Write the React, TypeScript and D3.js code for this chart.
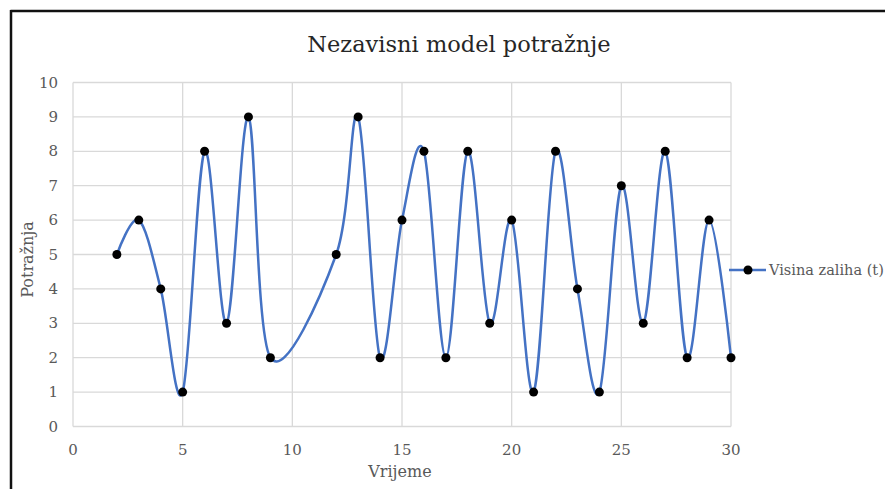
import React from "react";
import * as d3 from "d3";

const xValues = [2, 3, 4, 5, 6, 7, 8, 9, 12, 13, 14, 15, 16, 17, 18, 19, 20, 21, 22, 23, 24, 25, 26, 27, 28, 29, 30];
const yValues = [5, 6, 4, 1, 8, 3, 9, 2, 5, 9, 2, 6, 8, 2, 8, 3, 6, 1, 8, 4, 1, 7, 3, 8, 2, 6, 2];
const xTicks = [0, 5, 10, 15, 20, 25, 30];
const yTicks = [0, 1, 2, 3, 4, 5, 6, 7, 8, 9, 10];
const title = "Nezavisni model potražnje";
const xTitle = "Vrijeme";
const yTitle = "Potražnja";
const seriesName = "Visina zaliha (t)";

export default function App() {
  const W = 885, H = 489;
  const left = 73, right = 731, top = 82.5, bottom = 426.5;
  const x = d3.scaleLinear().domain([0, 30]).range([left, right]);
  const y = d3.scaleLinear().domain([0, 10]).range([bottom, top]);
  const pts: [number, number][] = xValues.map((v, i) => [v, yValues[i]]);
  const line = d3
    .line<[number, number]>()
    .x((d) => x(d[0]))
    .y((d) => y(d[1]))
    .curve(d3.curveCatmullRom.alpha(0));
  const font = "'DejaVu Serif', 'Liberation Serif', serif";
  const grid = "#d9d9d9";
  const tickColor = "#595959";
  return (
    <svg
      width={W}
      height={H}
      style={{ position: "absolute", left: 0, top: 0, background: "#fff" }}
      fontFamily={font}
    >
      <rect x={0} y={0} width={W} height={H} fill="#fff" />
      <line x1={10.5} y1={11} x2={W + 5} y2={11} stroke="#111" strokeWidth={2.5} />
      <line x1={11} y1={10} x2={11} y2={H + 5} stroke="#111" strokeWidth={2.5} />
      <text x={459} y={52} textAnchor="middle" fontSize={22.5} fill="#262626">
        {title}
      </text>
      {yTicks.map((t) => (
        <g key={"y" + t}>
          <line x1={left} x2={right} y1={y(t)} y2={y(t)} stroke={grid} strokeWidth={1.3} />
          <text x={58} y={y(t) + 5} textAnchor="end" fontSize={15} fill={tickColor}>
            {t}
          </text>
        </g>
      ))}
      {xTicks.map((t) => (
        <g key={"x" + t}>
          <line x1={x(t)} x2={x(t)} y1={top} y2={bottom} stroke={grid} strokeWidth={1.3} />
          <text x={x(t)} y={455} textAnchor="middle" fontSize={15} fill={tickColor}>
            {t}
          </text>
        </g>
      ))}
      <text x={400} y={477} textAnchor="middle" fontSize={16} fill={tickColor}>
        {xTitle}
      </text>
      <text
        transform={`translate(33, ${(top + bottom) / 2 + 5}) rotate(-90)`}
        textAnchor="middle"
        fontSize={16}
        fill={tickColor}
      >
        {yTitle}
      </text>
      <path d={line(pts) || ""} fill="none" stroke="#4472C4" strokeWidth={2.5} />
      {pts.map((d, i) => (
        <circle key={i} cx={x(d[0])} cy={y(d[1])} r={4.5} fill="#000" />
      ))}
      <line x1={729} x2={766} y1={270} y2={270} stroke="#4472C4" strokeWidth={2.5} />
      <circle cx={748} cy={270} r={4.5} fill="#000" />
      <text x={769} y={275} fontSize={14.5} fill={tickColor}>
        {seriesName}
      </text>
    </svg>
  );
}
